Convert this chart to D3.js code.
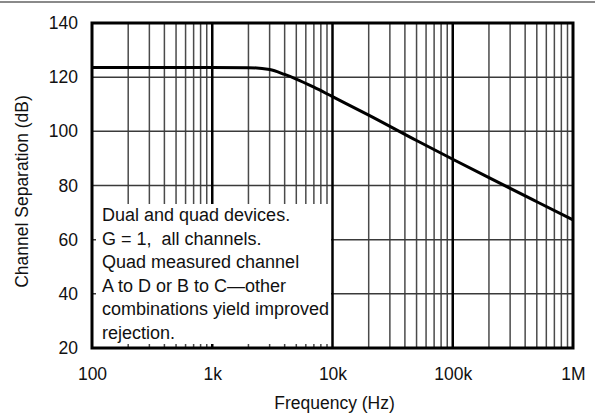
<!DOCTYPE html>
<html><head><meta charset="utf-8">
<script src="https://cdn.jsdelivr.net/npm/d3@7"></script>
<style>body{margin:0;background:#fff}svg{display:block}text{font-family:"Liberation Sans",Arial,sans-serif;fill:#111}</style>
</head><body><svg id="c" width="595" height="417"></svg>
<script>
const freqs = [100, 1000, 2000, 3000, 4000, 5000, 7000, 10000, 20000, 50000, 100000, 200000, 500000, 1000000];
const separation = [123.6, 123.6, 123.5, 122.8, 121.0, 119.3, 116.3, 112.8, 106.0, 96.6, 89.7, 82.9, 74.0, 67.3];
const xTicks = [100, 1000, 10000, 100000, 1000000];
const xTickLabels = ["100", "1k", "10k", "100k", "1M"];
const yTicks = [20, 40, 60, 80, 100, 120, 140];
const noteLines = ["Dual and quad devices.", "G = 1,  all channels.", "Quad measured channel", "A to D or B to C\u2014other", "combinations yield improved", "rejection."];

const svg = d3.select("#c");
const L = 92, R = 573, T = 23, B = 348;
const x = d3.scaleLog().domain([100, 1e6]).range([L, R]);
const y = d3.scaleLinear().domain([20, 140]).range([B, T]);

// top rule
svg.append("line").attr("x1", 0).attr("x2", 595).attr("y1", 2).attr("y2", 2).attr("stroke", "#8a8a8a").attr("stroke-width", 2);

// minor vertical grid
const minors = [];
for (let d = 100; d < 1e6; d *= 10) for (let k = 2; k <= 9; k++) minors.push(d * k);
const g = svg.append("g");
g.selectAll(".minor").data(minors).join("line")
  .attr("x1", d => x(d)).attr("x2", d => x(d)).attr("y1", T).attr("y2", B)
  .attr("stroke", "#4a4a4a").attr("stroke-width", 1.5);
// horizontal grid
g.selectAll(".hg").data(yTicks.slice(1, -1)).join("line")
  .attr("x1", L).attr("x2", R).attr("y1", d => y(d)).attr("y2", d => y(d))
  .attr("stroke", "#3a3a3a").attr("stroke-width", 1.5);
// major decade lines
g.selectAll(".major").data(xTicks.slice(1, -1)).join("line")
  .attr("x1", d => x(d)).attr("x2", d => x(d)).attr("y1", T).attr("y2", B)
  .attr("stroke", "#000").attr("stroke-width", 2.5);

// annotation background (its right edge is the 10k line)
svg.append("rect").attr("x", 96).attr("y", 204).attr("width", x(10000) - 1.5 - 96).attr("height", 344 - 204).attr("fill", "#fff");

// border
svg.append("rect").attr("x", L).attr("y", T).attr("width", R - L).attr("height", B - T)
  .attr("fill", "none").attr("stroke", "#000").attr("stroke-width", 3);

// note text
svg.append("g").selectAll("text").data(noteLines).join("text")
  .attr("x", 102).attr("y", (d, i) => 221 + i * 23.5)
  .attr("font-size", 18).style("white-space", "pre").text(d => d);

// curve
const line = d3.line().x((d, i) => x(freqs[i])).y(d => y(d)).curve(d3.curveMonotoneX);
svg.append("path").datum(separation).attr("d", line)
  .attr("fill", "none").attr("stroke", "#000").attr("stroke-width", 3);

// axes labels
const xa = d3.axisBottom(x).tickValues(xTicks).tickFormat((d, i) => xTickLabels[i]).tickSize(0).tickPadding(20);
const gx = svg.append("g").attr("transform", `translate(0,${B})`).call(xa);
gx.select(".domain").remove();
gx.selectAll("text").attr("font-size", 17.5).attr("font-family", "Liberation Sans, Arial, sans-serif").attr("fill", "#111");

const ya = d3.axisLeft(y).tickValues(yTicks).tickSize(0).tickPadding(14);
const gy = svg.append("g").attr("transform", `translate(${L},0)`).call(ya);
gy.select(".domain").remove();
gy.selectAll("text").attr("font-size", 17.5).attr("font-family", "Liberation Sans, Arial, sans-serif").attr("fill", "#111");

svg.append("text").attr("x", (L + R) / 2 + 2).attr("y", 409).attr("text-anchor", "middle")
  .attr("font-size", 17.5).text("Frequency (Hz)");
svg.append("text").attr("transform", `translate(28,${(T + B) / 2 + 6}) rotate(-90)`).attr("text-anchor", "middle")
  .attr("font-size", 17.5).text("Channel Separation (dB)");
</script></body></html>
